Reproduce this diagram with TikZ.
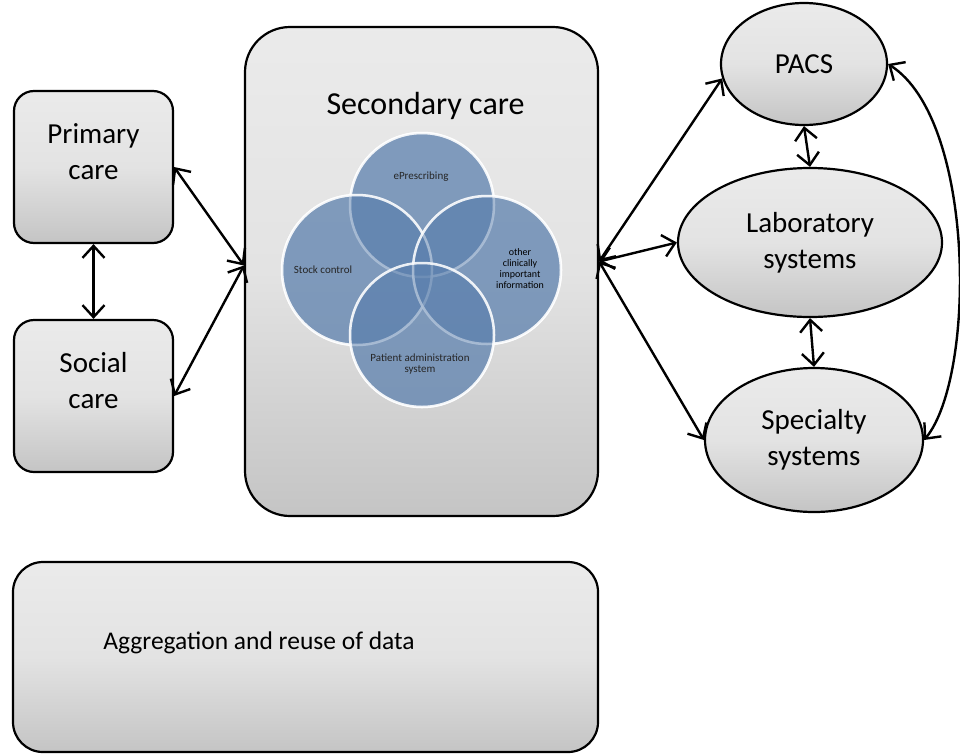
\documentclass[tikz,border=0pt]{standalone}
\usepackage{fontspec}
\setmainfont{Carlito}
\usetikzlibrary{shapes.geometric,arrows.meta,calc}
\begin{document}
\begin{tikzpicture}[x=1pt,y=-1pt,
  shade box/.style={draw=black,line width=2.2pt,top color=white!92!black,bottom color=black!23,middle color=black!11},
  rbox/.style={shade box,rounded corners=20pt,inner sep=0pt},
  ell/.style={shade box,ellipse,align=center,inner sep=0pt},
  tipA/.tip={Straight Barb[length=12pt,width=22pt,line width=2.4pt]},
  link/.style={line width=2.4pt,tipA-tipA},
  bigtxt/.style={font=\fontsize{29}{36}\selectfont,align=center},
  venn/.style={fill={rgb,255:red,94;green,130;blue,175},fill opacity=0.5,draw=white,draw opacity=0.85,line width=2.5pt},
  tiny/.style={font=\fontsize{11}{10.5}\selectfont,align=center,text=black!85},
]
\useasboundingbox (0,0) rectangle (960,755);
% boxes
\node[rbox,minimum width=159pt,minimum height=152pt] (pri) at (93.5,167) {};
\node[bigtxt] (pritxt) at (93.5,152) {Primary\\care};
\node[rbox,minimum width=159pt,minimum height=152pt] (soc) at (93.5,396) {};
\node[bigtxt] (soctxt) at (93.5,381) {Social\\care};
\node[shade box,rounded corners=45pt,minimum width=353pt,minimum height=489pt] (sec) at (421.5,271.5) {};
\node[font=\fontsize{32}{36}\selectfont] (sectitle) at (425.5,106) {Secondary care};
\node[rbox,rounded corners=30pt,minimum width=585pt,minimum height=190pt] (agg) at (305.5,657) {};
\node[font=\fontsize{25.5}{30}\selectfont] (aggtxt) at (259,643) {Aggregation and reuse of data};
% ellipses
\node[ell,bigtxt,minimum width=166pt,minimum height=122pt] (pacs) at (804,64) {PACS};
\node[ell,bigtxt,minimum width=264pt,minimum height=149pt] (lab) at (810,242.5) {Laboratory\\systems};
\node[ell,bigtxt,minimum width=218pt,minimum height=144pt] (spec) at (814,440) {Specialty\\systems};
% venn
\fill[venn] (422,205) circle (72);
\fill[venn] (357,270) circle (75);
\fill[venn] (487,270) circle (74);
\fill[venn] (422,335) circle (72);
\draw[venn] (422,205) circle (72);
\draw[venn] (357,270) circle (75);
\draw[venn] (487,270) circle (74);
\draw[venn] (422,335) circle (72);
\node[tiny] (v1) at (421,177) {ePrescribing};
\node[tiny] (v2) at (323,270) {Stock control};
\node[font=\fontsize{10}{11}\selectfont,align=center] (v3) at (520,269) {other\\clinically\\important\\information};
\node[tiny] (v4) at (420,364) {Patient administration\\system};
% connectors
\coordinate (secL) at ([yshift=6pt]sec.west);
\coordinate (secR) at ([yshift=10pt]sec.east);
\draw[link] (pri.east) -- (secL);
\draw[link] (soc.east) -- (secL);
\draw[link] (pri.south) -- (soc.north);
\draw[link] (secR) -- (pacs.190);
\draw[link] (secR) -- (lab.west);
\draw[link] (secR) -- (spec.west);
\draw[link] (pacs.south) -- (lab.north);
\draw[link] (lab.south) -- (spec.north);
\draw[link] (pacs.east) .. controls (976,120) and (976,377) .. (spec.east);
\end{tikzpicture}
\end{document}
